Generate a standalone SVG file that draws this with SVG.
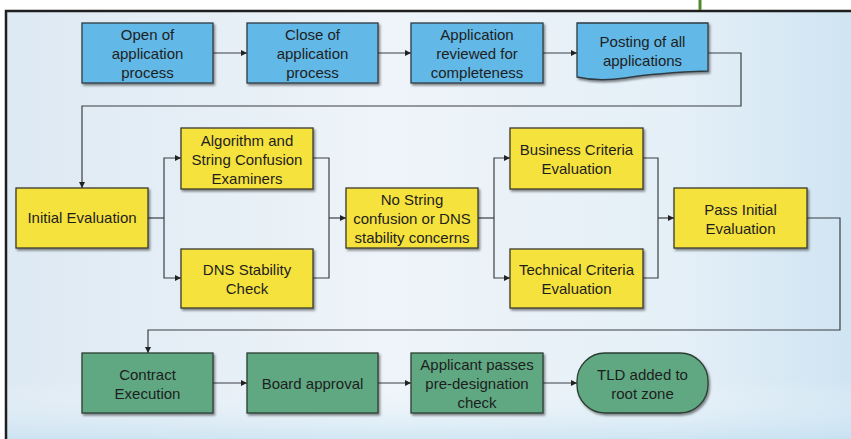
<svg xmlns="http://www.w3.org/2000/svg" width="851" height="439" viewBox="0 0 851 439">
<defs>
<linearGradient id="bgH" x1="0" y1="0" x2="1" y2="0">
<stop offset="0" stop-color="#dde9f3"/>
<stop offset="0.45" stop-color="#eef4f9"/>
<stop offset="0.8" stop-color="#e4eff7"/>
<stop offset="1" stop-color="#cfe4f2"/>
</linearGradient>
<linearGradient id="bgV" x1="0" y1="0" x2="0" y2="1">
<stop offset="0" stop-color="#ffffff" stop-opacity="0"/>
<stop offset="0.85" stop-color="#ffffff" stop-opacity="0"/>
<stop offset="1" stop-color="#bcdcef" stop-opacity="0.7"/>
</linearGradient>
<filter id="sh" x="-10%" y="-10%" width="125%" height="130%">
<feDropShadow dx="1.5" dy="2" stdDeviation="1.2" flood-color="#000" flood-opacity="0.45"/>
</filter>
<marker id="ah" viewBox="0 0 10 10" refX="10" refY="5" markerWidth="7" markerHeight="6" orient="auto" markerUnits="userSpaceOnUse">
<path d="M0,0 L10,5 L0,10 z" fill="#222"/>
</marker>
<style>
.blue{fill:#62b8e6;stroke:#2f3b44;stroke-width:1.3;filter:url(#sh)}
.yel{fill:#f6e23c;stroke:#3a3a2a;stroke-width:1.3;filter:url(#sh)}
.grn{fill:#5ea882;stroke:#2c3d33;stroke-width:1.3;filter:url(#sh)}
.t{font-family:"Liberation Sans",Arial,sans-serif;font-size:15px;fill:#1e1e1e;text-anchor:middle}
.c{fill:none;stroke:#3a3f44;stroke-width:1.2}
.ca{fill:none;stroke:#3a3f44;stroke-width:1.2;marker-end:url(#ah)}
</style>
</defs>
<rect x="0" y="0" width="851" height="439" fill="#ffffff"/>
<rect x="5" y="10" width="850" height="435" fill="url(#bgH)"/>
<rect x="5" y="10" width="850" height="435" fill="url(#bgV)"/>
<path d="M6,439 L6,11 L851,11" fill="none" stroke="#1f1f1f" stroke-width="2.5"/>
<line x1="700" y1="0" x2="700" y2="10" stroke="#4f8a2b" stroke-width="3"/>

<g id="connectors">
<path class="ca" d="M213,53 L247,53"/>
<path class="ca" d="M378,53 L411,53"/>
<path class="ca" d="M543,53 L577,53"/>
<path class="ca" d="M708,53 L741,53 L741,106 L82,106 L82,188"/>
<path class="c" d="M148,218 L164,218"/>
<path class="ca" d="M164,218 L164,158 L181,158"/>
<path class="ca" d="M164,218 L164,278 L181,278"/>
<path class="c" d="M313,158 L329,158 L329,278 L313,278"/>
<path class="ca" d="M329,218 L346,218"/>
<path class="c" d="M478,218 L494,218"/>
<path class="ca" d="M494,218 L494,158 L510,158"/>
<path class="ca" d="M494,218 L494,278 L510,278"/>
<path class="c" d="M643,158 L658,158 L658,278 L643,278"/>
<path class="ca" d="M658,218 L674,218"/>
<path class="ca" d="M807,218 L840,218 L840,330 L148,330 L148,353"/>
<path class="ca" d="M213,383 L247,383"/>
<path class="ca" d="M378,383 L411,383"/>
<path class="ca" d="M543,383 L577,383"/>
</g>

<g id="open">
<rect class="blue" x="82" y="23" width="131" height="60"/>
<text class="t" x="147.5" y="40">Open of</text>
<text class="t" x="147.5" y="59">application</text>
<text class="t" x="147.5" y="78">process</text>
</g>
<g id="close">
<rect class="blue" x="247" y="23" width="131" height="60"/>
<text class="t" x="312.5" y="40">Close of</text>
<text class="t" x="312.5" y="59">application</text>
<text class="t" x="312.5" y="78">process</text>
</g>
<g id="reviewed">
<rect class="blue" x="411" y="23" width="132" height="60"/>
<text class="t" x="477" y="40">Application</text>
<text class="t" x="477" y="59">reviewed for</text>
<text class="t" x="477" y="78">completeness</text>
</g>
<g id="posting">
<path class="blue" d="M577,23 L708,23 L708,71 C680,72 650,74 625,78 C605,81 590,80 577,77 Z"/>
<text class="t" x="642.5" y="47">Posting of all</text>
<text class="t" x="642.5" y="66">applications</text>
</g>

<g id="initial">
<rect class="yel" x="16" y="188" width="132" height="60"/>
<text class="t" x="82" y="223">Initial Evaluation</text>
</g>
<g id="algorithm">
<rect class="yel" x="181" y="128" width="132" height="61"/>
<text class="t" x="247" y="146">Algorithm and</text>
<text class="t" x="247" y="165">String Confusion</text>
<text class="t" x="247" y="184">Examiners</text>
</g>
<g id="dns">
<rect class="yel" x="181" y="249" width="132" height="59"/>
<text class="t" x="247" y="275">DNS Stability</text>
<text class="t" x="247" y="294">Check</text>
</g>
<g id="nostring">
<rect class="yel" x="346" y="188" width="132" height="60"/>
<text class="t" x="412" y="205">No String</text>
<text class="t" x="412" y="224">confusion or DNS</text>
<text class="t" x="412" y="243">stability concerns</text>
</g>
<g id="business">
<rect class="yel" x="510" y="128" width="133" height="61"/>
<text class="t" x="576.5" y="155">Business Criteria</text>
<text class="t" x="576.5" y="174">Evaluation</text>
</g>
<g id="technical">
<rect class="yel" x="510" y="249" width="133" height="59"/>
<text class="t" x="576.5" y="275">Technical Criteria</text>
<text class="t" x="576.5" y="294">Evaluation</text>
</g>
<g id="pass">
<rect class="yel" x="674" y="188" width="133" height="60"/>
<text class="t" x="740.5" y="215">Pass Initial</text>
<text class="t" x="740.5" y="234">Evaluation</text>
</g>

<g id="contract">
<rect class="grn" x="82" y="353" width="131" height="60"/>
<text class="t" x="147.5" y="380">Contract</text>
<text class="t" x="147.5" y="399">Execution</text>
</g>
<g id="board">
<rect class="grn" x="247" y="353" width="131" height="60"/>
<text class="t" x="312.5" y="389">Board approval</text>
</g>
<g id="predesignation">
<rect class="grn" x="411" y="353" width="132" height="60"/>
<text class="t" x="477" y="370">Applicant passes</text>
<text class="t" x="477" y="389">pre-designation</text>
<text class="t" x="477" y="408">check</text>
</g>
<g id="tld">
<rect class="grn" x="577" y="353" width="131" height="60" rx="28" ry="28"/>
<text class="t" x="642.5" y="380">TLD added to</text>
<text class="t" x="642.5" y="399">root zone</text>
</g>
</svg>
